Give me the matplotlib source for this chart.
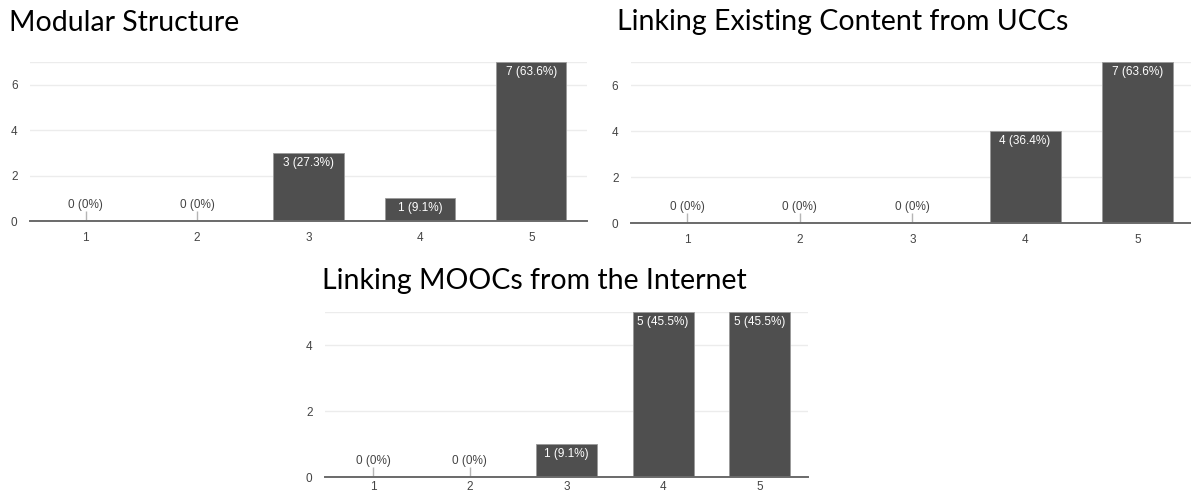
import numpy as np
import matplotlib.pyplot as plt

# survey answers on a 1-5 scale, 11 respondents per question
ratings = [1, 2, 3, 4, 5]
modular = [0, 0, 3, 1, 7]
modular_pct = ["0%", "0%", "27.3%", "9.1%", "63.6%"]
ucc = [0, 0, 0, 4, 7]
ucc_pct = ["0%", "0%", "0%", "36.4%", "63.6%"]
mooc = [0, 0, 1, 5, 5]
mooc_pct = ["0%", "0%", "9.1%", "45.5%", "45.5%"]

bar_col = "#4f4f4f"
grid_col = "#ececec"
txt_col = "#444444"
lab_font = ["Liberation Sans", "DejaVu Sans"]
title_font = ["Lato", "Open Sans", "DejaVu Sans"]


def bar_panel(ax, counts, pcts, ymax, yticks, xpad, stub):
    x = np.arange(len(ratings))
    ax.bar(x, counts, width=0.63, color=bar_col, edgecolor="#9a9a9a", linewidth=0.6, zorder=3)
    ax.set_xlim(-0.5, len(ratings) - 0.5)
    ax.set_ylim(0, ymax)
    ax.set_xticks(x)
    ax.set_xticklabels([str(r) for r in ratings], family=lab_font, fontsize=8.5, color=txt_col)
    ax.set_yticks(yticks)
    ax.set_yticklabels([str(t) for t in yticks], family=lab_font, fontsize=8.5, color=txt_col)
    ax.tick_params(axis="x", length=0, pad=xpad)
    ax.tick_params(axis="y", length=0, pad=9)
    ax.grid(axis="y", color=grid_col, linewidth=1, zorder=0)
    ax.axhline(ymax, color=grid_col, linewidth=1, zorder=0)
    for s in ["top", "right", "left"]:
        ax.spines[s].set_visible(False)
    ax.spines["bottom"].set_color("#6a6a6a")
    ax.spines["bottom"].set_linewidth(1.4)
    ax.spines["bottom"].set_zorder(4)
    for xi, c, p in zip(x, counts, pcts):
        label = f"{c} ({p})"
        if c == 0:
            # empty category: small stub plus the label just above it
            ax.vlines(xi, 0, stub, transform=ax.get_xaxis_transform(), color="#b5b5b5", linewidth=1, zorder=3)
            ax.annotate(label, (xi, 0), xytext=(0, 7), textcoords="offset points",
                        ha="center", va="bottom", fontsize=8.5, color=txt_col, family=lab_font)
        else:
            ax.annotate(label, (xi, c), xytext=(0, -3), textcoords="offset points",
                        ha="center", va="top", fontsize=8.5, color="white", family=lab_font, zorder=5)


fig = plt.figure(figsize=(11.91, 4.95), dpi=100)

ax1 = fig.add_axes([30 / 1191, 1 - 221 / 495, 557 / 1191, 159 / 495])
bar_panel(ax1, modular, modular_pct, 7, [0, 2, 4, 6], 8, 10 / 159)
fig.text(9 / 1191, 1 - 23 / 495, "Modular Structure", fontsize=20.5, family=title_font, va="center", ha="left")

ax2 = fig.add_axes([631 / 1191, 1 - 223 / 495, 563 / 1191, 161 / 495])
bar_panel(ax2, ucc, ucc_pct, 7, [0, 2, 4, 6], 8, 10 / 161)
fig.text(617 / 1191, 1 - 22 / 495, "Linking Existing Content from UCCs", fontsize=20.5, family=title_font,
         va="center", ha="left")

ax3 = fig.add_axes([325 / 1191, 1 - 477 / 495, 483 / 1191, 165 / 495])
bar_panel(ax3, mooc, mooc_pct, 5, [0, 2, 4], 3, 10 / 165)
fig.text(322 / 1191, 1 - 281 / 495, "Linking MOOCs from the Internet", fontsize=20.5, family=title_font,
         va="center", ha="left")

fig.savefig("out.png", dpi=100)
